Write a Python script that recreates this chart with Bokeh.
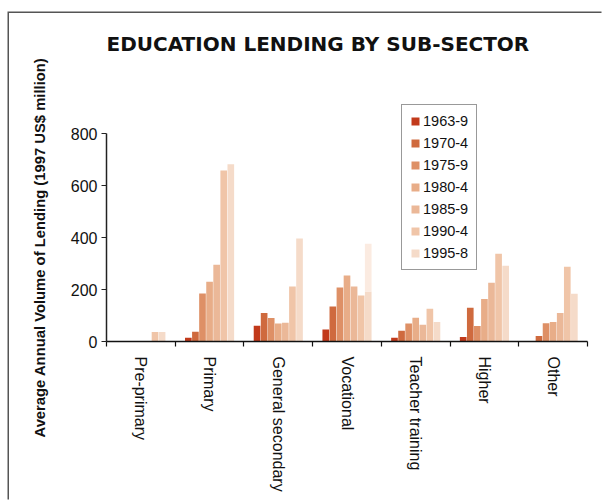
from bokeh.plotting import figure
from bokeh.models import (ColumnDataSource, Range1d, LinearAxis, FixedTicker,
                          Legend, LegendItem, Label, Title)
from bokeh.transform import dodge
from bokeh.embed import file_html
from bokeh.resources import INLINE

# ---- data (US$ million, 1997 prices, average annual volume) ----
categories = ["Pre-primary", "Primary", "General secondary", "Vocational",
              "Teacher training", "Higher", "Other"]
periods = ["1963-9", "1970-4", "1975-9", "1980-4", "1985-9", "1990-4", "1995-8"]
v1963_9 = [0, 14, 61, 46, 14, 17, 0]
v1970_4 = [0, 38, 110, 135, 41, 130, 21]
v1975_9 = [0, 185, 91, 208, 69, 60, 70]
v1980_4 = [0, 230, 69, 254, 92, 164, 75]
v1985_9 = [0, 296, 72, 212, 65, 226, 110]
v1990_4 = [37, 659, 212, 177, 126, 338, 288]
v1995_8 = [37, 683, 397, 193, 75, 292, 184]
v1995_8_upper = [37, 683, 397, 377, 75, 292, 184]   # lighter upper segment (Vocational)
y_ticks = [0, 200, 400, 600, 800]

series = [v1963_9, v1970_4, v1975_9, v1980_4, v1985_9, v1990_4, v1995_8]
colors = ["#c23a1b", "#cf6a3e", "#de9066", "#e8ad88", "#ebb898", "#f0c5a8", "#f5dbc9"]
upper_color = "#fbebe1"

n = len(categories)
centers = [i + 0.5 for i in range(n)]
data = {"pos": centers, "upper": v1995_8_upper}
for i, s in enumerate(series):
    data[f"s{i}"] = s
src = ColumnDataSource(data)

# frame extends above the value axis so the title and legend live inside it
Y_TOP = 1222
p = figure(width=594, height=488, output_backend="svg", toolbar_location=None,
           x_range=Range1d(0, n), y_range=Range1d(0, Y_TOP), x_axis_location=None,
           min_border_left=93, min_border_right=16, min_border_top=11, min_border_bottom=160)
p.title.text_font_size = "0px"
p.styles = {"box-shadow": "-1.5px -1.5px 0 0 #555", "margin-top": "13px", "margin-left": "9px"}
p.outline_line_color = None
p.xgrid.grid_line_color = None
p.ygrid.grid_line_color = None
p.background_fill_color = "white"

w = 0.103
renderers = []
for i, col in enumerate(colors):
    r = p.vbar(x=dodge("pos", (i - 3) * w), top=f"s{i}", width=w * 0.94,
               source=src, fill_color=col, line_color=None)
    renderers.append(r)
p.vbar(x=dodge("pos", 3 * w), bottom="s6", top="upper", width=w * 0.94,
       source=src, fill_color=upper_color, line_color=None)

# category axis: labels at centres, separator (minor) ticks between categories
xa = LinearAxis(ticker=FixedTicker(ticks=centers, minor_ticks=list(range(n + 1))),
                major_label_overrides={c: name for c, name in zip(centers, categories)},
                major_tick_line_color=None, major_tick_out=0, major_tick_in=0,
                minor_tick_out=5, minor_tick_in=0,
                minor_tick_line_color="#111", minor_tick_line_width=1.2,
                axis_line_color="#111", axis_line_width=1.5,
                major_label_orientation="vertical", major_label_standoff=10,
                axis_label_standoff=0,
                major_label_text_font="Liberation Sans",
                major_label_text_font_size="16px",
                major_label_text_color="#111")
p.add_layout(xa, "below")

ya = p.yaxis[0]
ya.bounds = (0, 800)
ya.ticker = FixedTicker(ticks=y_ticks)
ya.minor_tick_line_color = None
ya.major_tick_out = 5
ya.major_tick_in = 0
ya.axis_line_color = "#222"
ya.axis_line_width = 1.5
ya.major_tick_line_color = "#222"
ya.major_label_standoff = 4
ya.major_label_text_font = "Liberation Sans"
ya.major_label_text_font_size = "16px"
ya.major_label_text_color = "#111"

ytitle = Title(text="Average Annual Volume of Lending (1997 US$ million)",
               align="left", offset=-96, standoff=40,
               text_font="Liberation Sans", text_font_style="bold",
               text_font_size="14.8px", text_color="#111")
p.add_layout(ytitle, "left")

legend = Legend(items=[LegendItem(label=per, renderers=[r]) for per, r in zip(periods, renderers)],
                location=(295, 71), orientation="vertical",
                glyph_width=10, glyph_height=10, label_standoff=3, label_height=15,
                spacing=6, padding=8, margin=0,
                label_text_font="Liberation Sans", label_text_font_size="14.5px",
                label_text_color="#111",
                border_line_color="#333", border_line_width=1.5,
                background_fill_color="white", background_fill_alpha=1)
p.add_layout(legend)

title = Label(x=0, y=298, x_units="screen", y_units="screen",
              text="EDUCATION LENDING BY SUB-SECTOR", text_font="DejaVu Sans",
              text_font_style="bold", text_font_size="20px", text_color="#111",
              text_baseline="alphabetic", text_align="left")
p.add_layout(title)

open("out.html", "w").write(file_html(p, INLINE))
